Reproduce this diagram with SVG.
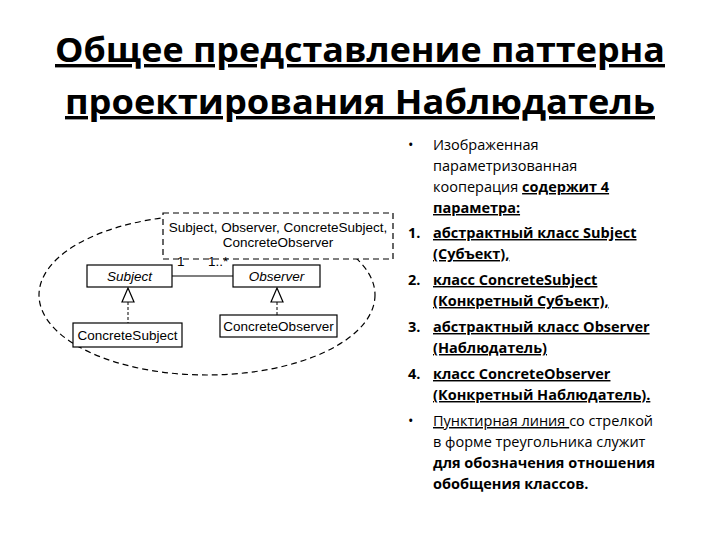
<svg xmlns="http://www.w3.org/2000/svg" width="720" height="540" viewBox="0 0 720 540">
<style>
.t{font-family:"Open Sans","Liberation Sans",sans-serif;font-weight:bold;font-size:34px;fill:#000;text-decoration:underline}
.r{font-family:"Open Sans","Liberation Sans",sans-serif;font-size:14.5px;fill:#000}
.b{font-weight:bold}
.u{text-decoration:underline}
.box{fill:#fff;stroke:#000;stroke-width:1.2}
.d{fill:none;stroke:#000;stroke-width:1.2;stroke-dasharray:6,4}
.l{font-family:"Liberation Sans",Arial,sans-serif;font-size:13.5px;fill:#000}
</style>
<rect width="720" height="540" fill="#fff"/>
<text class="t" x="360" y="62" text-anchor="middle" textLength="610" lengthAdjust="spacingAndGlyphs">Общее представление паттерна</text>
<text class="t" x="360" y="114" text-anchor="middle" textLength="590" lengthAdjust="spacingAndGlyphs">проектирования Наблюдатель</text>

<g id="collaboration">
<ellipse class="d" cx="207" cy="295" rx="168" ry="80"/>
<rect x="163" y="213" width="230" height="46" fill="#fff" stroke="#000" stroke-width="1.2" stroke-dasharray="6,4"/>
<text class="l" x="278" y="232" text-anchor="middle">Subject, Observer, ConcreteSubject,</text>
<text class="l" x="278" y="247" text-anchor="middle">ConcreteObserver</text>
</g>
<g id="connectors">
<line x1="172" y1="276" x2="233" y2="276" stroke="#000" stroke-width="1.2"/>
<text class="l" x="177" y="266" font-size="11">1</text>
<text class="l" x="208" y="266" font-size="11">1..*</text>
<line x1="128" y1="302" x2="128" y2="323" stroke="#000" stroke-width="1" stroke-dasharray="3,2"/>
<polygon points="128,288 122,302 134,302" fill="#fff" stroke="#000" stroke-width="1.2"/>
<line x1="277" y1="302" x2="277" y2="315" stroke="#000" stroke-width="1" stroke-dasharray="3,2"/>
<polygon points="277,288 271,302 283,302" fill="#fff" stroke="#000" stroke-width="1.2"/>
</g>
<g id="subject"><rect class="box" x="87" y="265" width="85" height="22"/><text class="l" x="129.5" y="281" text-anchor="middle" font-style="italic">Subject</text></g>
<g id="observer"><rect class="box" x="233" y="265" width="87" height="22"/><text class="l" x="276.5" y="281" text-anchor="middle" font-style="italic">Observer</text></g>
<g id="concreteSubject"><rect class="box" x="73" y="323" width="109" height="24"/><text class="l" x="127.5" y="340" text-anchor="middle">ConcreteSubject</text></g>
<g id="concreteObserver"><rect class="box" x="220" y="315" width="117" height="22"/><text class="l" x="278.5" y="331" text-anchor="middle">ConcreteObserver</text></g>

<g id="list" class="r">
<text x="408" y="150">•</text>
<text x="433" y="150">Изображенная</text>
<text x="433" y="171">параметризованная</text>
<text x="433" y="192">кооперация <tspan class="b u">содержит 4</tspan></text>
<text x="433" y="213" class="b u">параметра:</text>
<text x="408" y="238" class="b">1.</text>
<text x="433" y="238" class="b u">абстрактный класс Subject</text>
<text x="433" y="259" class="b u">(Субъект),</text>
<text x="408" y="285" class="b">2.</text>
<text x="433" y="285" class="b u">класс ConcreteSubject</text>
<text x="433" y="306" class="b u">(Конкретный Субъект),</text>
<text x="408" y="332" class="b">3.</text>
<text x="433" y="332" class="b u">абстрактный класс Observer</text>
<text x="433" y="353" class="b u">(Наблюдатель)</text>
<text x="408" y="379" class="b">4.</text>
<text x="433" y="379" class="b u">класс ConcreteObserver</text>
<text x="433" y="400" class="b u">(Конкретный Наблюдатель).</text>
<text x="408" y="426">•</text>
<text x="433" y="426"><tspan class="u">Пунктирная линия </tspan>со стрелкой</text>
<text x="433" y="447">в форме треугольника служит</text>
<text x="433" y="468" class="b">для обозначения отношения</text>
<text x="433" y="489" class="b">обобщения классов.</text>
</g>
</svg>
